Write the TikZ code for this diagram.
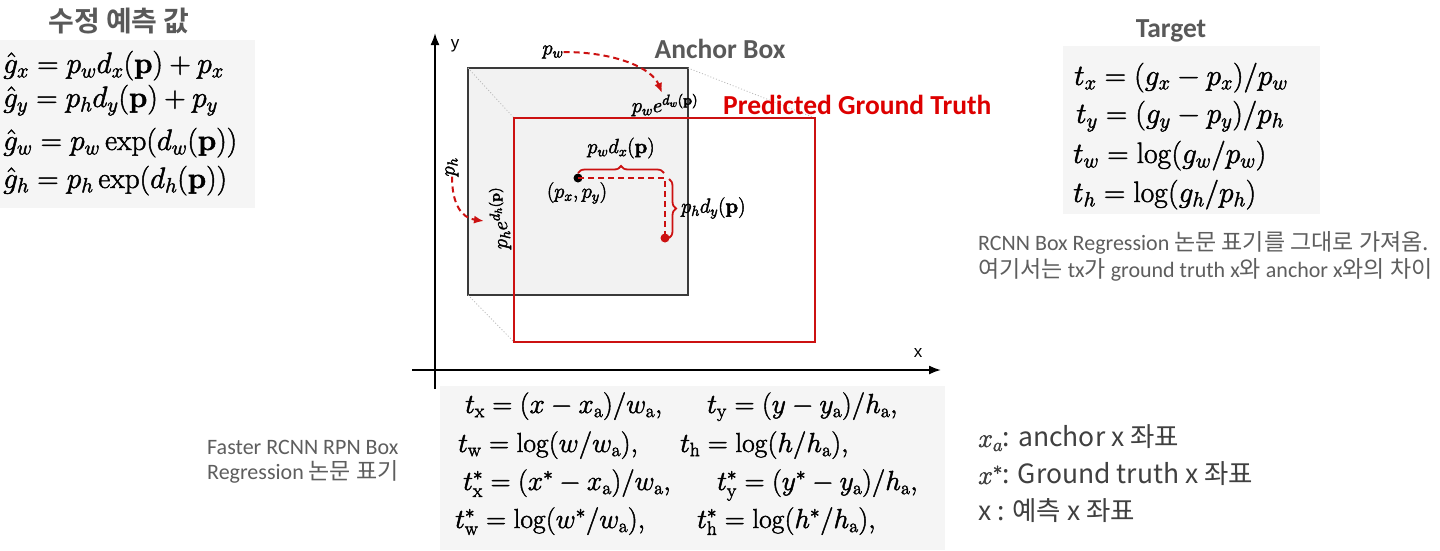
\documentclass[tikz,border=0pt]{standalone}
\usepackage{fix-cm}
\usepackage[no-math]{fontspec}
\setmainfont{Carlito}
\newfontfamily\kr{Noto Sans CJK KR}[BoldFont={Noto Sans CJK KR Bold}]
\newfontfamily\arialf{Liberation Sans}
\usetikzlibrary{arrows.meta,decorations.pathreplacing}
\definecolor{tgray}{HTML}{595959}
\definecolor{ngray}{HTML}{5E5E5E}
\definecolor{dgray}{HTML}{404040}
\definecolor{pred}{HTML}{DD0000}
\definecolor{boxred}{HTML}{CC1111}
\definecolor{eqbg}{HTML}{F5F5F5}
\definecolor{ancfill}{HTML}{F2F2F2}
\definecolor{ancline}{HTML}{3A3A3A}
\newcommand{\K}[1]{{\kr\fontsize{23}{27}\selectfont #1}}
\newcommand{\rmsub}[1]{\mathrm{#1}}
\newcommand{\heavy}[1]{\special{pdf:literal direct 2 Tr 0.45 w}#1\special{pdf:literal direct 0 Tr}}
\tikzset{
  title/.style={font=\fontsize{27.5}{33}\selectfont\bfseries, text=tgray, inner sep=0, anchor=base},
  eqn/.style={font=\fontsize{29.5}{35}\selectfont, inner sep=0, anchor=base west},
  beqn/.style={font=\fontsize{27.5}{32}\selectfont, inner sep=0, anchor=base west},
  dlab/.style={font=\fontsize{20.5}{24}\selectfont, inner sep=0},
  note/.style={font=\fontsize{22}{26}\selectfont, text=ngray, inner sep=0, anchor=west},
  legend/.style={font=\kr\fontsize{26.5}{31}\selectfont, text=dgray, inner sep=0, anchor=west},
  axislab/.style={font=\arialf\fontsize{17}{20}\selectfont, inner sep=0},
  axis/.style={line width=1.8pt, -{Latex[length=12pt,width=9pt]}},
  eqbox/.style={fill=eqbg, draw=none},
  redarrow/.style={boxred, line width=2pt, dash pattern=on 6pt off 4pt, -{Latex[length=10pt,width=8pt]}},
  reddash/.style={boxred, line width=2pt, dash pattern=on 6pt off 4pt},
  guide/.style={gray!55, line width=0.8pt, dash pattern=on 1pt off 2pt},
  redbrace/.style={boxred, line width=1.8pt, decorate, decoration={brace, amplitude=7pt}},
  dot/.style={circle, inner sep=0, minimum size=9pt},
}
\begin{document}
\begin{tikzpicture}[x=1pt,y=-1pt]
\useasboundingbox (0,0) rectangle (1440,550);
\fill[white] (0,0) rectangle (1440,550);

% equation backgrounds
\fill[eqbox] (0,40) rectangle (255,208);
\fill[eqbox] (1063,46) rectangle (1320,214);
\fill[eqbox] (440,386) rectangle (945,550);

% left: corrected prediction
\node[font=\kr\bfseries\fontsize{28}{32}\selectfont, text=tgray, inner sep=0, anchor=base] (ltitle) at (119,31) {수정 예측 값};
\node[eqn] (l1) at (3,73) {\heavy{$\hat{g}_x = p_w d_x(\mathbf{p}) + p_x$}};
\node[eqn] (l2) at (3,107) {\heavy{$\hat{g}_y = p_h d_y(\mathbf{p}) + p_y$}};
\node[eqn] (l3) at (3,150) {\heavy{$\hat{g}_w = p_w \exp(d_w(\mathbf{p}))$}};
\node[eqn] (l4) at (3,188) {\heavy{$\hat{g}_h = p_h \exp(d_h(\mathbf{p}))$}};

% right: target
\node[title] (ttitle) at (1171,37) {Target};
\node[eqn] (t1) at (1074,85) {\heavy{$t_x = (g_x - p_x)/p_w$}};
\node[eqn] (t2) at (1076,123) {\heavy{$t_y = (g_y - p_y)/p_h$}};
\node[eqn] (t3) at (1073,163) {\heavy{$t_w = \log(g_w/p_w)$}};
\node[eqn] (t4) at (1073,202) {\heavy{$t_h = \log(g_h/p_h)$}};

\node[note] (n1) at (978,243) {RCNN Box Regression \K{논문 표기를 그대로 가져옴.}};
\node[note] (n2) at (978,270) {\K{여기서는} tx\K{가} ground truth x\K{와} anchor x\K{와의 차이}};

% axes
\coordinate (yb) at (435,389);
\coordinate (yt) at (435,33);
\coordinate (xl) at (412,370);
\coordinate (xr) at (941,370);
\draw[axis] (yb) -- (yt);
\draw[axis] (xl) -- (xr);
\node[axislab] (ylab) at (455,46) {y};
\node[axislab] (xlab) at (918,353) {x};

% anchor box
\node[draw=ancline, fill=ancfill, line width=1.6pt, minimum width=220pt, minimum height=227pt, inner sep=0, outer sep=0] (anc) at (578,181.5) {};
% ground truth box (outline only)
\coordinate (gtc) at (664.5,230);
\draw[guide] (anc.north west) -- (514,118) coordinate (gtnw);
\draw[guide] (anc.north east) -- (815,118) coordinate (gtne);
\draw[guide] (anc.south west) -- (514,342) coordinate (gtsw);
\node[draw=boxred, line width=2.6pt, minimum width=301pt, minimum height=224pt, inner sep=0, outer sep=0] (gt) at (gtc) {};

\node[title] (anclab) at (720,58) {Anchor Box};
\node[font=\fontsize{27.5}{33}\selectfont\bfseries, text=pred, inner sep=0, anchor=base west] (gtlab) at (723,114) {Predicted Ground Truth};

% width / height scaling labels
\node[dlab] (pw) at (553,52) {\heavy{$p_w$}};
\node[dlab] (pwe) at (665,105) {\heavy{$p_w e^{d_w(\mathbf{p})}$}};
\coordinate (pwtip) at (662,93);
\draw[redarrow] (pw.east) .. controls (615,52) and (652,68) .. (pwtip);

\node[dlab, rotate=90] (ph) at (452,167) {\heavy{$p_h$}};
\node[dlab, rotate=90] (phe) at (500,218) {\heavy{$p_h e^{d_h(\mathbf{p})}$}};
\coordinate (phtip) at (484,221);
\draw[redarrow] (ph.west) .. controls (452,205) and (462,218) .. (phtip);

% centre shift
\node[dot, fill=black] (pc) at (578,178) {};
\node[dot, fill=boxred] (pr) at (665,238) {};
\coordinate (corner) at (665,178);
\draw[reddash] (pc.center) -- (corner) -- (pr.center);
\coordinate (b1s) at (578,173);
\coordinate (b1e) at (664,173);
\draw[redbrace] (b1s) -- (b1e);
\coordinate (b2s) at (669,179);
\coordinate (b2e) at (669,238);
\draw[redbrace] (b2s) -- (b2e);
\node[dlab] (pxl) at (621,148) {\heavy{$p_w d_x(\mathbf{p})$}};
\node[dlab] (pcl) at (577,193) {\heavy{$(p_x, p_y)$}};
\node[dlab, anchor=west] (pyl) at (681,208) {\heavy{$p_h d_y(\mathbf{p})$}};

% bottom: Faster RCNN equations
\node[beqn] (f1a) at (465,413) {\heavy{$t_{\rmsub{x}} = (x - x_{\rmsub{a}})/w_{\rmsub{a}},$}};
\node[beqn] (f1b) at (707,413) {\heavy{$t_{\rmsub{y}} = (y - y_{\rmsub{a}})/h_{\rmsub{a}},$}};
\node[beqn] (f2a) at (458,452) {\heavy{$t_{\rmsub{w}} = \log(w/w_{\rmsub{a}}),$}};
\node[beqn] (f2b) at (680,452) {\heavy{$t_{\rmsub{h}} = \log(h/h_{\rmsub{a}}),$}};
\node[beqn] (f3a) at (463,490) {\heavy{$t^*_{\rmsub{x}} = (x^* - x_{\rmsub{a}})/w_{\rmsub{a}},$}};
\node[beqn] (f3b) at (717,490) {\heavy{$t^*_{\rmsub{y}} = (y^* - y_{\rmsub{a}})/h_{\rmsub{a}},$}};
\node[beqn] (f4a) at (455,528) {\heavy{$t^*_{\rmsub{w}} = \log(w^*/w_{\rmsub{a}}),$}};
\node[beqn] (f4b) at (697,528) {\heavy{$t^*_{\rmsub{h}} = \log(h^*/h_{\rmsub{a}}),$}};

\node[note] (fr1) at (207,447) {Faster RCNN RPN Box};
\node[note] (fr2) at (207,472) {Regression \K{논문 표기}};

% legend
\node[legend] (lg1) at (978,438) {\heavy{$x_a$}: anchor x 좌표};
\node[legend] (lg2) at (978,474) {\heavy{$x^*$}: Ground truth x 좌표};
\node[legend] (lg3) at (978,511) {x : 예측 x 좌표};
\end{tikzpicture}
\end{document}
